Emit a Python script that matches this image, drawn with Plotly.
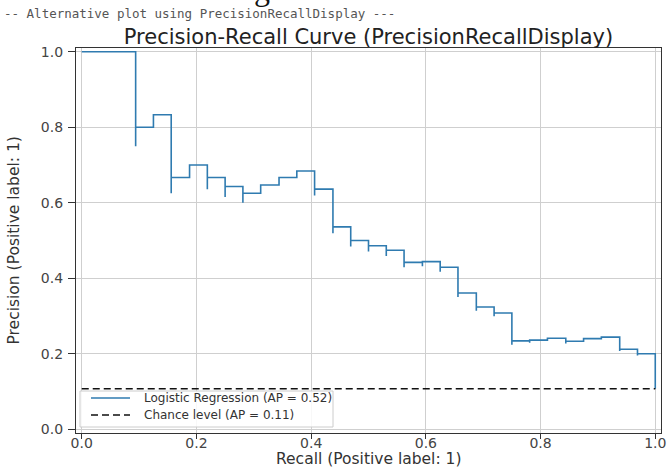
import plotly.graph_objects as go

# Precision-recall points (increasing recall order)
recall = [0.0, 0.031, 0.062, 0.094, 0.094, 0.125, 0.156, 0.156, 0.188, 0.219, 0.219,
          0.25, 0.25, 0.281, 0.281, 0.312, 0.344, 0.375, 0.406, 0.406, 0.438, 0.438,
          0.469, 0.469, 0.5, 0.5, 0.531, 0.531, 0.562, 0.562, 0.594, 0.594, 0.625, 0.625,
          0.656, 0.656, 0.688, 0.688, 0.719, 0.719, 0.75, 0.75, 0.781, 0.781, 0.812, 0.812,
          0.844, 0.844, 0.875, 0.906, 0.906, 0.938, 0.938, 0.969, 0.969, 1.0, 1.0]
precision = [1.0, 1.0, 1.0, 1.0, 0.75, 0.8, 0.833, 0.625, 0.667, 0.7, 0.636,
             0.667, 0.615, 0.643, 0.6, 0.625, 0.647, 0.667, 0.684, 0.619, 0.636, 0.519,
             0.536, 0.484, 0.5, 0.471, 0.486, 0.459, 0.474, 0.429, 0.442, 0.432, 0.444, 0.417,
             0.429, 0.35, 0.361, 0.314, 0.324, 0.299, 0.308, 0.224, 0.234, 0.229, 0.236, 0.234,
             0.241, 0.227, 0.233, 0.24, 0.238, 0.244, 0.207, 0.212, 0.195, 0.2, 0.107]

chance_x = [0.0, 1.0]
chance_y = [0.107, 0.107]

model_label = "Logistic Regression (AP = 0.52)"
chance_label = "Chance level (AP = 0.11)"
x_title = "Recall (Positive label: 1)"
y_title = "Precision (Positive label: 1)"
ticks = [0.0, 0.2, 0.4, 0.6, 0.8, 1.0]
tick_text = ["0.0", "0.2", "0.4", "0.6", "0.8", "1.0"]

FONT = "DejaVu Sans"
BLUE = "#2f7bb0"
BLACK = "#111111"
DASH = "7px,4px"

# plot-area pixel geometry
L, R, T, B = 76, 661, 48, 433
W, H = 667, 467


def px_x(p):
    return (p - L) / (R - L)


def px_y(p):
    return (B - p) / (B - T)


fig = go.Figure()
fig.add_trace(go.Scatter(x=recall, y=precision, mode="lines", line_shape="vh",
                         line=dict(color=BLUE, width=1.6), name=model_label,
                         showlegend=False))
fig.add_trace(go.Scatter(x=chance_x, y=chance_y, mode="lines",
                         line=dict(color=BLACK, width=1.5, dash=DASH),
                         name=chance_label, showlegend=False))

axis_common = dict(
    showgrid=True, gridcolor="#cfcfcf", gridwidth=1,
    zeroline=False, showline=True, linecolor="#333333", linewidth=1.2, mirror=True,
    ticks="outside", tickcolor="#333333", tickwidth=1,
    automargin=False,
    tickvals=ticks, ticktext=tick_text,
    tickfont=dict(family=FONT, size=14, color="#444444"),
    range=[-0.01, 1.01], fixedrange=True,
)

fig.update_layout(
    width=W, height=H,
    margin=dict(l=L, r=W - R, t=T, b=H - B),
    paper_bgcolor="white", plot_bgcolor="white",
    font=dict(family=FONT, color="#333333"),
    title=dict(text="Precision-Recall Curve (PrecisionRecallDisplay)",
               x=(L + R) / 2 / W, xanchor="center", y=1 - 37 / H, yanchor="middle",
               font=dict(family=FONT, size=21, color="#222222")),
    xaxis=dict(axis_common, ticklen=5, ticklabelstandoff=-8),
    yaxis=dict(axis_common, ticklen=7, ticklabelstandoff=2),
    showlegend=False,
)

# axis titles
fig.add_annotation(text=x_title, xref="paper", yref="paper", x=0.5, y=px_y(459),
                   xanchor="center", yanchor="middle", showarrow=False,
                   font=dict(family=FONT, size=15.5, color="#333333"))
fig.add_annotation(text=y_title, xref="paper", yref="paper", x=px_x(13), y=0.5,
                   xanchor="center", yanchor="middle", showarrow=False, textangle=-90,
                   font=dict(family=FONT, size=15.5, color="#333333"))

# legend box (drawn by hand to match the compact matplotlib legend)
fig.add_shape(type="rect", xref="paper", yref="paper",
              x0=px_x(80), x1=px_x(333), y0=px_y(427), y1=px_y(391),
              fillcolor="rgba(255,255,255,0.85)", line=dict(color="#cccccc", width=1),
              layer="above")
legend_rows = [(model_label, 398, BLUE, "solid", 1.6), (chance_label, 415, BLACK, DASH, 1.5)]
for label, ypx, color, dash, lw in legend_rows:
    fig.add_shape(type="line", xref="paper", yref="paper",
                  x0=px_x(91), x1=px_x(130), y0=px_y(ypx), y1=px_y(ypx),
                  line=dict(color=color, width=lw, dash=dash), layer="above")
    fig.add_annotation(text=label, xref="paper", yref="paper", x=px_x(142), y=px_y(ypx),
                       xanchor="left", yanchor="middle", showarrow=False,
                       font=dict(family=FONT, size=12, color="#333333"))

fig.add_annotation(text="-- Alternative plot using PrecisionRecallDisplay ---",
                   xref="paper", yref="paper", x=px_x(2), y=px_y(13),
                   xanchor="left", yanchor="middle", showarrow=False,
                   font=dict(family="DejaVu Sans Mono", size=12.5, color="#555555"))
fig.add_annotation(text="g", xref="paper", yref="paper", x=px_x(262),
                   y=px_y(9), xanchor="center", yanchor="bottom", showarrow=False,
                   font=dict(family="Liberation Serif", size=32, color="#111111"))

fig.write_html("out.html")
